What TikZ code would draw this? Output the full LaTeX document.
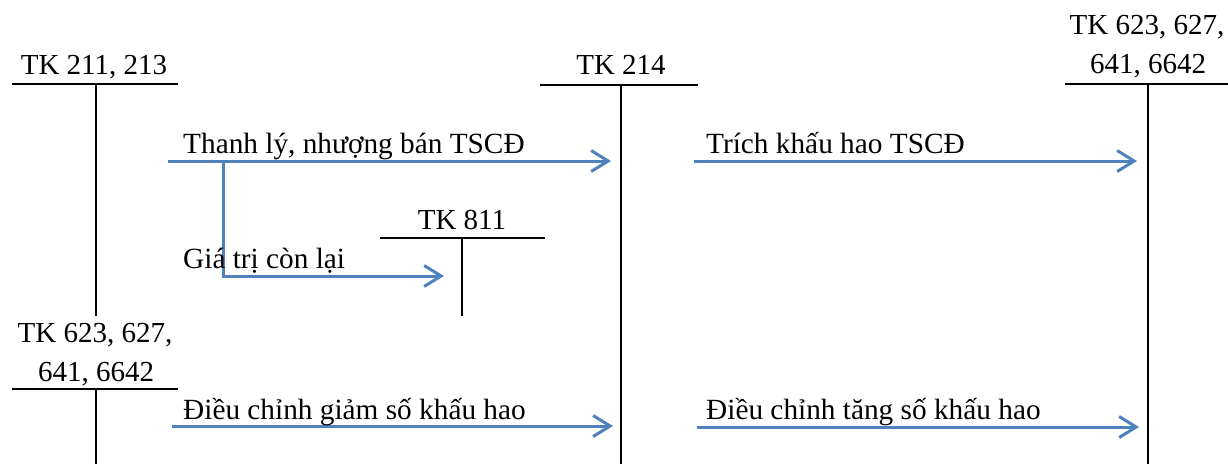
\documentclass[tikz,border=0pt]{standalone}
\usepackage{fontspec}
\setmainfont{Liberation Serif}
\usetikzlibrary{arrows.meta}
\definecolor{arrowblue}{HTML}{4F81BD}
\tikzset{
  acct/.style={line width=2.8pt, black},
  flow/.style={line width=3pt, arrowblue, -{Straight Barb[length=17pt, width=21pt, line width=3pt]}},
  lbl/.style={inner sep=0pt, anchor=base west, font=\fontsize{29.3}{34}\selectfont},
  hdr/.style={inner sep=0pt, anchor=base, font=\fontsize{29}{34}\selectfont},
}
\begin{document}
\begin{tikzpicture}[x=1pt,y=-1pt]
\useasboundingbox (0,0) rectangle (1228,464);
% T-account TK 211, 213
\node[hdr] (h1) at (94,74) {TK 211, 213};
\coordinate (t1l) at (12,84); \coordinate (t1r) at (178,84);
\coordinate (t1t) at (96,84); \coordinate (t1b) at (96,316);
\draw[acct] (t1l) -- (t1r); \draw[acct] (t1t) -- (t1b);
% TK 214
\node[hdr] (h2) at (621,74) {TK 214};
\coordinate (t2l) at (540,85); \coordinate (t2r) at (698,85);
\coordinate (t2t) at (621,85); \coordinate (t2b) at (621,464);
\draw[acct] (t2l) -- (t2r); \draw[acct] (t2t) -- (t2b);
% TK 623... right
\node[hdr] (h3a) at (1147,34) {TK 623, 627,};
\node[hdr] (h3b) at (1148,73) {641, 6642};
\coordinate (t3l) at (1065,84); \coordinate (t3r) at (1228,84);
\coordinate (t3t) at (1148,84); \coordinate (t3b) at (1148,464);
\draw[acct] (t3l) -- (t3r); \draw[acct] (t3t) -- (t3b);
% TK 811
\node[hdr] (h4) at (462,229) {TK 811};
\coordinate (t4l) at (380,238); \coordinate (t4r) at (545,238);
\coordinate (t4t) at (462,238); \coordinate (t4b) at (462,316);
\draw[acct] (t4l) -- (t4r); \draw[acct] (t4t) -- (t4b);
% TK 623... bottom left
\node[hdr] (h5a) at (95,342) {TK 623, 627,};
\node[hdr] (h5b) at (96,381) {641, 6642};
\coordinate (t5l) at (12,389); \coordinate (t5r) at (178,389);
\coordinate (t5t) at (96,389); \coordinate (t5b) at (96,464);
\draw[acct] (t5l) -- (t5r); \draw[acct] (t5t) -- (t5b);
% flows
\coordinate (a1s) at (168,161); \coordinate (a1e) at (611,161);
\draw[flow] (a1s) -- (a1e);
\node[lbl] (l1) at (183,153) {Thanh lý, nhượng bán TSCĐ};
\coordinate (bs) at (223,161); \coordinate (be) at (444,276);
\draw[flow] (bs) |- (be);
\node[lbl] (l2) at (183,268) {Giá trị còn lại};
\coordinate (a2s) at (694,161); \coordinate (a2e) at (1137,161);
\draw[flow] (a2s) -- (a2e);
\node[lbl] (l3) at (706,153) {Trích khấu hao TSCĐ};
\coordinate (a3s) at (172,426); \coordinate (a3e) at (613,426);
\draw[flow] (a3s) -- (a3e);
\node[lbl] (l4) at (183,419) {Điều chỉnh giảm số khấu hao};
\coordinate (a4s) at (697,427); \coordinate (a4e) at (1139,427);
\draw[flow] (a4s) -- (a4e);
\node[lbl] (l5) at (706,419) {Điều chỉnh tăng số khấu hao};
\end{tikzpicture}
\end{document}
